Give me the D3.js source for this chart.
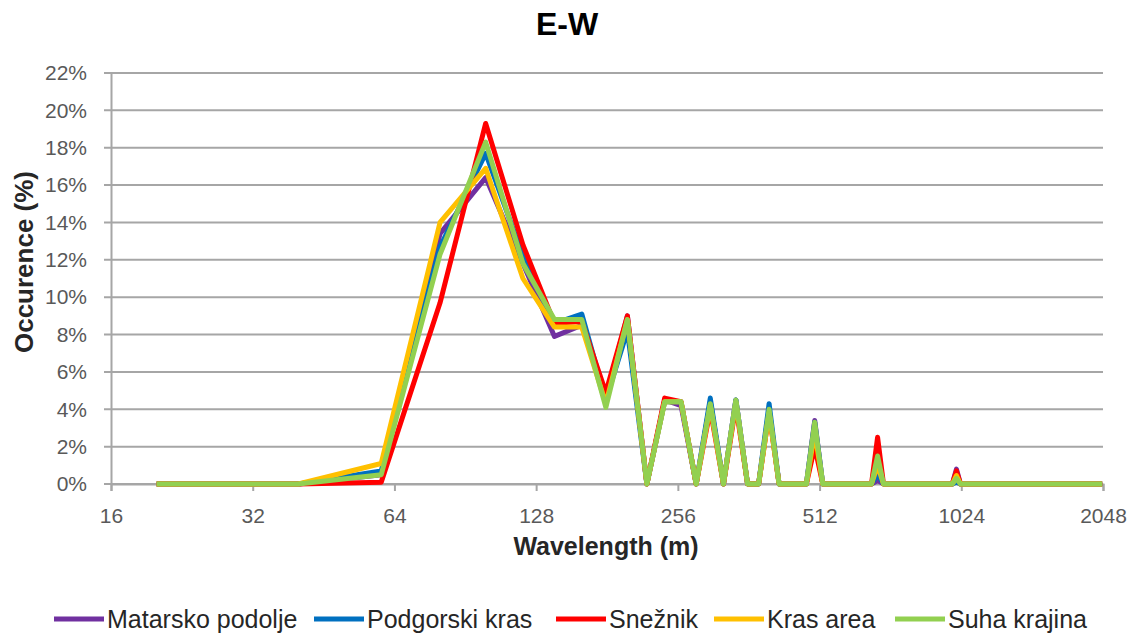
<!DOCTYPE html>
<html>
<head>
<meta charset="utf-8">
<script src="https://cdn.jsdelivr.net/npm/d3@7"></script>
<style>
  body { margin: 0; background: #fff; }
  svg text { font-family: "Liberation Sans", Arial, sans-serif; }
</style>
</head>
<body>
<div id="chart"></div>
<script>
// wavelengths (m) of the sampled points; runs of zeros are kept only at their ends
var wavelengths = [20, 40, 60, 80, 100, 120, 140, 160, 180, 200, 220, 240, 260, 280, 300, 320, 340, 360, 380, 400, 420, 480, 500, 520, 660, 680, 700, 980, 1000, 1020, 2040];

var seriesNames = ["Matarsko podolje", "Podgorski kras", "Snežnik", "Kras area", "Suha krajina"];
var seriesColors = ["#7030a0", "#0070c0", "#ff0000", "#ffc000", "#92d050"];

var matarsko = [0, 0, 0.5, 13.4, 16.4, 11.8, 7.9, 8.5, 4.6, 9.0, 0, 4.5, 4.2, 0, 4.4, 0, 4.5, 0, 0, 4.0, 0, 0, 3.4, 0, 0, 0.2, 0, 0, 0.8, 0, 0];
var podgorski = [0, 0, 0.7, 12.7, 17.7, 12.2, 8.6, 9.1, 4.5, 8.2, 0, 4.4, 4.4, 0, 4.6, 0, 4.5, 0, 0, 4.3, 0, 0, 3.3, 0, 0, 0.5, 0, 0, 0.1, 0, 0];
var sneznik = [0, 0, 0.1, 9.7, 19.3, 12.8, 8.6, 8.7, 4.9, 9.0, 0, 4.6, 4.4, 0, 4.0, 0, 4.2, 0, 0, 3.8, 0, 0, 2.0, 0, 0, 2.5, 0, 0, 0.7, 0, 0];
var krasArea = [0, 0, 1.1, 14.0, 16.9, 11.0, 8.4, 8.4, 4.3, 8.8, 0, 4.4, 4.4, 0, 4.2, 0, 4.4, 0, 0, 3.8, 0, 0, 2.8, 0, 0, 1.0, 0, 0, 0.45, 0, 0];
var suha = [0, 0, 0.5, 12.3, 18.3, 11.8, 8.8, 8.8, 4.1, 8.8, 0, 4.4, 4.4, 0, 4.3, 0, 4.5, 0, 0, 4.0, 0, 0, 3.3, 0, 0, 1.5, 0, 0, 0.3, 0, 0];

var xTicks = [16, 32, 64, 128, 256, 512, 1024, 2048];
var yTicks = [0, 2, 4, 6, 8, 10, 12, 14, 16, 18, 20, 22];

var allSeries = [matarsko, podgorski, sneznik, krasArea, suha];

var width = 1135, height = 635;
var plot = {left: 111, right: 1103, top: 73, bottom: 484};

var svg = d3.select("#chart").append("svg")
    .attr("width", width)
    .attr("height", height);

var x = d3.scaleLog().base(2)
    .domain([16, 2048])
    .range([plot.left, plot.right]);

var y = d3.scaleLinear()
    .domain([0, 22])
    .range([plot.bottom, plot.top]);

// gridlines
svg.append("g")
  .selectAll("line")
  .data(yTicks)
  .enter().append("line")
    .attr("x1", plot.left - 7)
    .attr("x2", plot.right)
    .attr("y1", function(d) { return y(d); })
    .attr("y2", function(d) { return y(d); })
    .attr("stroke", "#a6a6a6")
    .attr("stroke-width", 2);

// y axis
var yAxis = svg.append("g")
    .attr("transform", "translate(" + plot.left + ",0)")
    .call(d3.axisLeft(y).tickValues(yTicks).tickSize(0).tickPadding(24)
      .tickFormat(function(d) { return d + "%"; }));
yAxis.select(".domain").attr("stroke", "#a6a6a6").attr("stroke-width", 2);
yAxis.selectAll("text")
    .attr("font-size", "21px")
    .attr("fill", "#595959")
    .attr("font-family", "'Open Sans', sans-serif");

// x axis
var xAxis = svg.append("g")
    .attr("transform", "translate(0," + plot.bottom + ")")
    .call(d3.axisBottom(x).tickValues(xTicks).tickSize(7).tickPadding(17)
      .tickFormat(d3.format("d")));
xAxis.select(".domain").attr("stroke", "#a6a6a6").attr("stroke-width", 2);
xAxis.selectAll(".tick line").attr("stroke", "#a6a6a6").attr("stroke-width", 2);
xAxis.selectAll("text")
    .attr("font-size", "21px")
    .attr("fill", "#595959")
    .attr("font-family", "'Open Sans', sans-serif");

// lines
var line = d3.line()
    .x(function(d, i) { return x(wavelengths[i]); })
    .y(function(d) { return y(d); });

svg.append("g")
  .selectAll("path")
  .data(allSeries)
  .enter().append("path")
    .attr("d", line)
    .attr("fill", "none")
    .attr("stroke", function(d, i) { return seriesColors[i]; })
    .attr("stroke-width", 5)
    .attr("stroke-linejoin", "round");

// titles
svg.append("text")
    .attr("x", 567)
    .attr("y", 35)
    .attr("text-anchor", "middle")
    .attr("font-size", "32px")
    .attr("font-weight", "bold")
    .text("E-W");

svg.append("text")
    .attr("x", 606)
    .attr("y", 555)
    .attr("text-anchor", "middle")
    .attr("font-size", "25px")
    .attr("font-weight", "bold")
    .attr("fill", "#262626")
    .text("Wavelength (m)");

svg.append("text")
    .attr("transform", "translate(33,262) rotate(-90)")
    .attr("text-anchor", "middle")
    .attr("font-size", "26px")
    .attr("font-weight", "bold")
    .attr("fill", "#262626")
    .text("Occurence (%)");

// legend
var legendX = [54, 314, 556, 714, 895];
var legend = svg.append("g")
  .selectAll("g")
  .data(seriesNames)
  .enter().append("g")
    .attr("transform", function(d, i) { return "translate(" + legendX[i] + ",619)"; });

legend.append("line")
    .attr("x1", 0)
    .attr("x2", 50)
    .attr("stroke", function(d, i) { return seriesColors[i]; })
    .attr("stroke-width", 5);

legend.append("text")
    .attr("x", 53)
    .attr("dy", "0.35em")
    .attr("font-size", "25px")
    .attr("fill", "#262626")
    .text(function(d) { return d; });
</script>
</body>
</html>
